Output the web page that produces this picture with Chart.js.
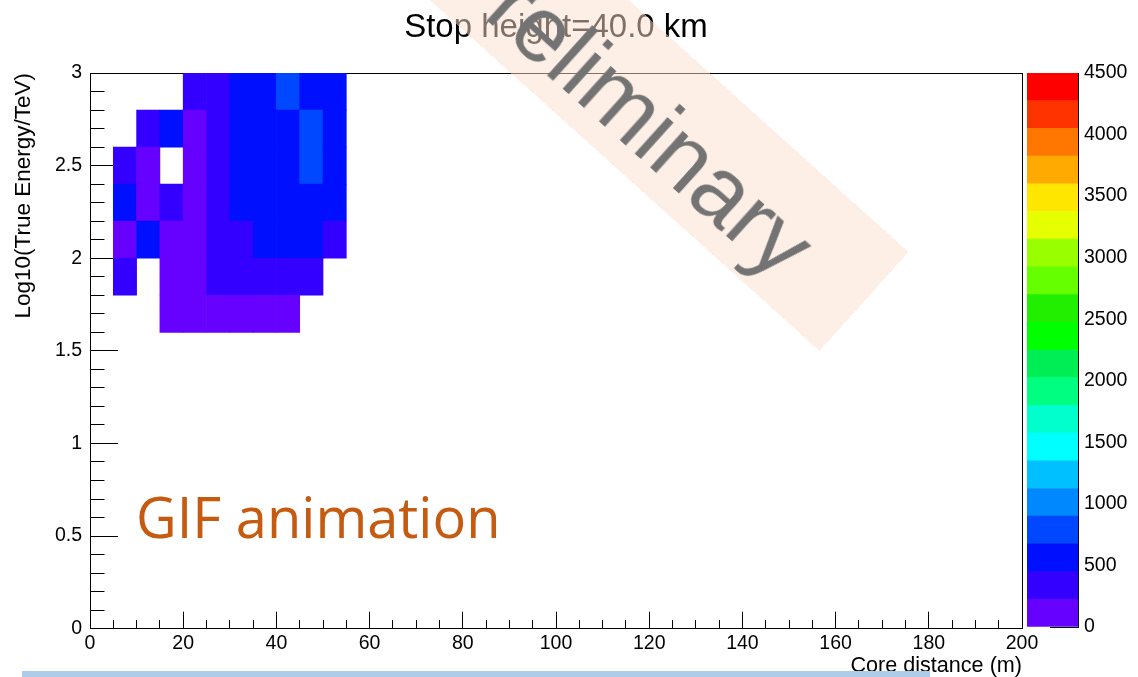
<!DOCTYPE html>
<html>
<head>
<meta charset="utf-8">
<script src="https://cdn.jsdelivr.net/npm/chart.js@4.4.1/dist/chart.umd.min.js"></script>
<style>
  body { margin: 0; width: 1138px; height: 677px; overflow: hidden; background: #fff; position: relative; }
  #main { position: absolute; left: 0; top: 0; }
  #palette { position: absolute; left: 1000px; top: 0; }
  #band {
    position: absolute; left: 224px; top: 235px; width: 640px; height: 133px;
    transform-origin: 100% 50%; transform: rotate(42deg);
    background: rgba(251, 223, 205, 0.5);
  }
  #band span {
    display: block; position: relative; top: 26px; text-align: right; padding-right: 76px; line-height: 133px;
    font: 92px "Liberation Sans", Arial, sans-serif; color: #737373; white-space: nowrap;
  }
  #gif {
    position: absolute; left: 136px; top: 478px; line-height: 1;
    font: 56px "Open Sans", sans-serif; color: #c55a11; white-space: nowrap;
  }
  #bar { position: absolute; left: 22px; top: 671px; width: 908px; height: 6px; background: #adcce9; }
</style>
</head>
<body>
<canvas id="main" width="1138" height="677"></canvas>
<canvas id="palette" width="138" height="677"></canvas>
<div id="band"><span>Preliminary</span></div>
<div id="gif">GIF animation</div>
<div id="bar"></div>
<script>
const titleText = "Stop height=40.0 km";
const xTitle = "Core distance (m)";
const yTitle = "Log10(True Energy/TeV)";

// bin low edges
const coreDistanceLow = [5, 10, 15, 20, 25, 30, 35, 40, 45, 50];
const xBinWidth = 5;
const logEnergyLow = [2.8, 2.6, 2.4, 2.2, 2.0, 1.8, 1.6];
const yBinWidth = 0.2;

// counts per energy row (null = empty bin)
const row28 = [null, null, null, 320, 380, 560, 600, 780, 620, 540];
const row26 = [null, 300, 520, 180, 400, 580, 610, 640, 720, 560];
const row24 = [330, 190, null, 170, 410, 590, 630, 650, 740, 580];
const row22 = [510, 200, 290, 160, 390, 570, 620, 600, 560, 530];
const row20 = [210, 480, 150, 140, 360, 430, 520, 560, 540, 340];
const row18 = [300, null, 120, 130, 290, 310, 330, 300, 260, null];
const row16 = [null, null, 90, 100, 110, 120, 110, 100, null, null];
const counts = [row28, row26, row24, row22, row20, row18, row16];

const zMax = 4500;
// colour levels, bottom to top
const paletteColors = ["#6600ff", "#3300ff", "#0010ff", "#0048ff", "#0088ff", "#00c0ff", "#00ffff",
  "#00ffcc", "#00ff80", "#00ee55", "#00ff00", "#22ee00", "#66ff00", "#99ff00", "#e6ff00",
  "#ffe600", "#ffaa00", "#ff7700", "#ff3300", "#ff0000"];
const zTicks = 500;

Chart.defaults.font.family = '"Liberation Sans", Arial, Helvetica, sans-serif';
Chart.defaults.color = "#000";

function levelColor(v)
{
    const i = Math.min(paletteColors.length - 1, Math.floor(v / (zMax / paletteColors.length)));
    return paletteColors[i];
}

const isMajorX = v => Math.abs(v % 20) < 1e-9;
const isMajorY = v => Math.abs(v * 2 - Math.round(v * 2)) < 1e-6;

let cells = [];
counts.forEach((row, r) => {
    row.forEach((v, c) => {
        if (v === null) return;
        cells.push({x: coreDistanceLow[c] + xBinWidth / 2, y: [logEnergyLow[r], logEnergyLow[r] + yBinWidth], v: v});
    });
});

// note: scale fit() counts tick padding twice, title paddings below make up for it
new Chart(document.getElementById("main"), {
    type: "bar",
    data: {
        datasets: [{
            data: cells,
            backgroundColor: ctx => levelColor(ctx.raw.v),
            borderWidth: 0,
            barPercentage: 1,
            categoryPercentage: 1
        }]
    },
    options: {
        responsive: false,
        animation: false,
        events: [],
        layout: {padding: {left: 0, right: 116, top: 0, bottom: 0}},
        plugins: {
            legend: {display: false},
            tooltip: {enabled: false},
            title: {
                display: true, text: titleText, fullSize: false, color: "#000",
                font: {size: 33, weight: "normal"},
                padding: {top: 8.6, bottom: 24.8}
            }
        },
        scales: {
            x: {
                type: "linear", min: 0, max: 200, offset: false,
                grid: {
                    offset: false, drawOnChartArea: false, tickLength: -17, tickColor: "#000", tickWidth: 1,
                    tickBorderDash: ctx => (ctx.tick && !isMajorX(ctx.tick.value)) ? [9, 100] : []
                },
                border: {color: "#000", width: 1},
                ticks: {
                    stepSize: 5, autoSkip: false, maxRotation: 0, padding: 20.3,
                    font: {size: 19.5}, color: "#000",
                    callback: v => isMajorX(v) ? String(v) : ""
                },
                title: {
                    display: true, text: xTitle, align: "end", color: "#000",
                    font: {size: 21.6, lineHeight: 1}, padding: {top: -20.8, bottom: 0.5}
                }
            },
            y: {
                type: "linear", min: 0, max: 3,
                grid: {
                    drawOnChartArea: false, tickLength: -28, tickColor: "#000", tickWidth: 1,
                    tickBorderDash: ctx => (ctx.tick && !isMajorY(ctx.tick.value)) ? [0, 13.5, 15, 100] : []
                },
                border: {color: "#000", width: 1},
                ticks: {
                    stepSize: 0.1, autoSkip: false, padding: 36,
                    font: {size: 19.5}, color: "#000",
                    callback: v => isMajorY(v) ? String(Math.round(v * 10) / 10) : ""
                },
                title: {
                    display: true, text: yTitle, align: "end", color: "#000",
                    font: {size: 22.5, lineHeight: 1}, padding: {top: 12.75, bottom: -16.35}
                }
            },
            // frame lines
            x2: {
                type: "linear", position: "top", min: 0, max: 200,
                grid: {display: false, drawTicks: false}, ticks: {display: false},
                border: {color: "#000", width: 1}
            },
            y2: {
                type: "linear", position: "right", min: 0, max: 3,
                grid: {display: false, drawTicks: false}, ticks: {display: false},
                border: {color: "#000", width: 1}
            }
        }
    }
});

// colour palette
new Chart(document.getElementById("palette"), {
    type: "bar",
    data: {
        labels: [""],
        datasets: paletteColors.map(c => ({
            data: [zMax / paletteColors.length],
            backgroundColor: c,
            borderWidth: 0,
            barPercentage: 1,
            categoryPercentage: 1
        }))
    },
    options: {
        responsive: false,
        animation: false,
        events: [],
        layout: {padding: {left: 27, right: 9, top: 73, bottom: 50}},
        plugins: {legend: {display: false}, tooltip: {enabled: false}},
        scales: {
            x: {display: false, stacked: true},
            y: {
                stacked: true, position: "right", min: 0, max: zMax,
                grid: {drawOnChartArea: false, tickLength: -28, tickColor: "#000"},
                border: {color: "#000", width: 1},
                ticks: {stepSize: zTicks, autoSkip: false, padding: 34, font: {size: 19.5}, color: "#000", callback: v => String(v)}
            }
        }
    }
});
</script>
</body>
</html>
